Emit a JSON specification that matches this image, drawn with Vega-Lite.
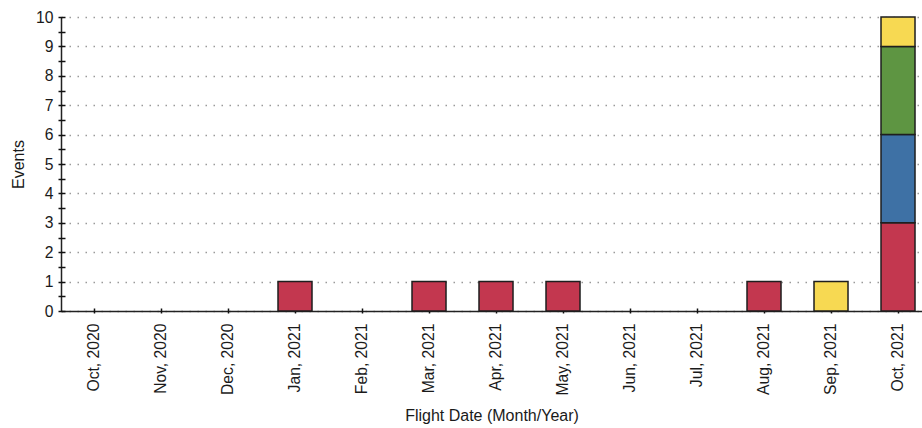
{
  "$schema": "https://vega.github.io/schema/vega-lite/v6.json",
  "autosize": "none",
  "width": 861,
  "height": 294,
  "padding": {"left": 61, "top": 17, "right": 0, "bottom": 117},
  "background": "white",
  "config": {
    "view": {"stroke": null},
    "font": "Liberation Sans",
    "axis": {"labelFont": "Liberation Sans", "titleFont": "Liberation Sans", "labelColor": "#1a1a1a", "titleColor": "#1a1a1a", "titleFontWeight": "normal"}
  },
  "data": {
    "values": [
      {"month": "Jan, 2021", "category": "Cat A", "rank": 1, "events": 1},
      {"month": "Mar, 2021", "category": "Cat A", "rank": 1, "events": 1},
      {"month": "Apr, 2021", "category": "Cat A", "rank": 1, "events": 1},
      {"month": "May, 2021", "category": "Cat A", "rank": 1, "events": 1},
      {"month": "Aug, 2021", "category": "Cat A", "rank": 1, "events": 1},
      {"month": "Sep, 2021", "category": "Cat D", "rank": 4, "events": 1},
      {"month": "Oct, 2021", "category": "Cat A", "rank": 1, "events": 3},
      {"month": "Oct, 2021", "category": "Cat B", "rank": 2, "events": 3},
      {"month": "Oct, 2021", "category": "Cat C", "rank": 3, "events": 3},
      {"month": "Oct, 2021", "category": "Cat D", "rank": 4, "events": 1}
    ]
  },
  "layer": [
    {
      "mark": {"type": "bar", "stroke": "#1e1e1e", "strokeWidth": 1.5},
      "encoding": {
        "x": {
          "field": "month", "type": "ordinal", "sort": null,
          "scale": {
            "domain": ["Oct, 2020", "Nov, 2020", "Dec, 2020", "Jan, 2021", "Feb, 2021", "Mar, 2021", "Apr, 2021", "May, 2021", "Jun, 2021", "Jul, 2021", "Aug, 2021", "Sep, 2021", "Oct, 2021"],
            "paddingInner": 0.4925, "paddingOuter": 0.1716, "align": 0.696
          },
          "axis": {
            "orient": "bottom", "title": "Flight Date (Month/Year)", "titleFontSize": 16, "titlePadding": 12,
            "labelAngle": 270, "labelFontSize": 15.7, "labelPadding": 12,
            "ticks": false, "tickSize": 0, "domainColor": "#222", "domainWidth": 1.5, "grid": false
          }
        },
        "y": {
          "field": "events", "type": "quantitative",
          "scale": {"domain": [0, 10], "nice": false},
          "axis": {
            "orient": "left", "title": "Events", "titleFontSize": 16, "titlePadding": 9,
            "values": [0, 1, 2, 3, 4, 5, 6, 7, 8, 9, 10],
            "labelFontSize": 15.7, "labelPadding": 8, "ticks": false, "tickSize": 0,
            "domainColor": "#222", "domainWidth": 1.5,
            "grid": true, "gridColor": "#9a9a9a", "gridDash": [1.5, 6.5], "gridWidth": 1.3
          }
        },
        "color": {
          "field": "category", "type": "nominal",
          "scale": {"domain": ["Cat A", "Cat B", "Cat C", "Cat D"], "range": ["#C3374F", "#3E71A5", "#5E9542", "#F7D952"]},
          "legend": null
        },
        "order": {"field": "rank", "type": "quantitative", "sort": "ascending"}
      }
    },
    {
      "mark": {"type": "bar", "opacity": 0},
      "encoding": {
        "x": {
          "field": "month", "type": "ordinal", "sort": null,
          "axis": {
            "orient": "bottom", "offset": -3, "tickSize": 5, "tickWidth": 1.5, "tickColor": "#111",
            "labels": false, "domain": false, "title": null, "grid": false
          }
        },
        "y": {
          "field": "events", "type": "quantitative",
          "axis": {
            "orient": "left", "offset": -4, "tickSize": 7, "tickWidth": 1.5, "tickColor": "#111",
            "values": [0, 0.5, 1, 1.5, 2, 2.5, 3, 3.5, 4, 4.5, 5, 5.5, 6, 6.5, 7, 7.5, 8, 8.5, 9, 9.5, 10],
            "labels": false, "domain": false, "title": null, "grid": false
          }
        },
        "order": {"field": "rank", "type": "quantitative", "sort": "ascending"}
      }
    }
  ],
  "resolve": {"axis": {"x": "independent", "y": "independent"}}
}
